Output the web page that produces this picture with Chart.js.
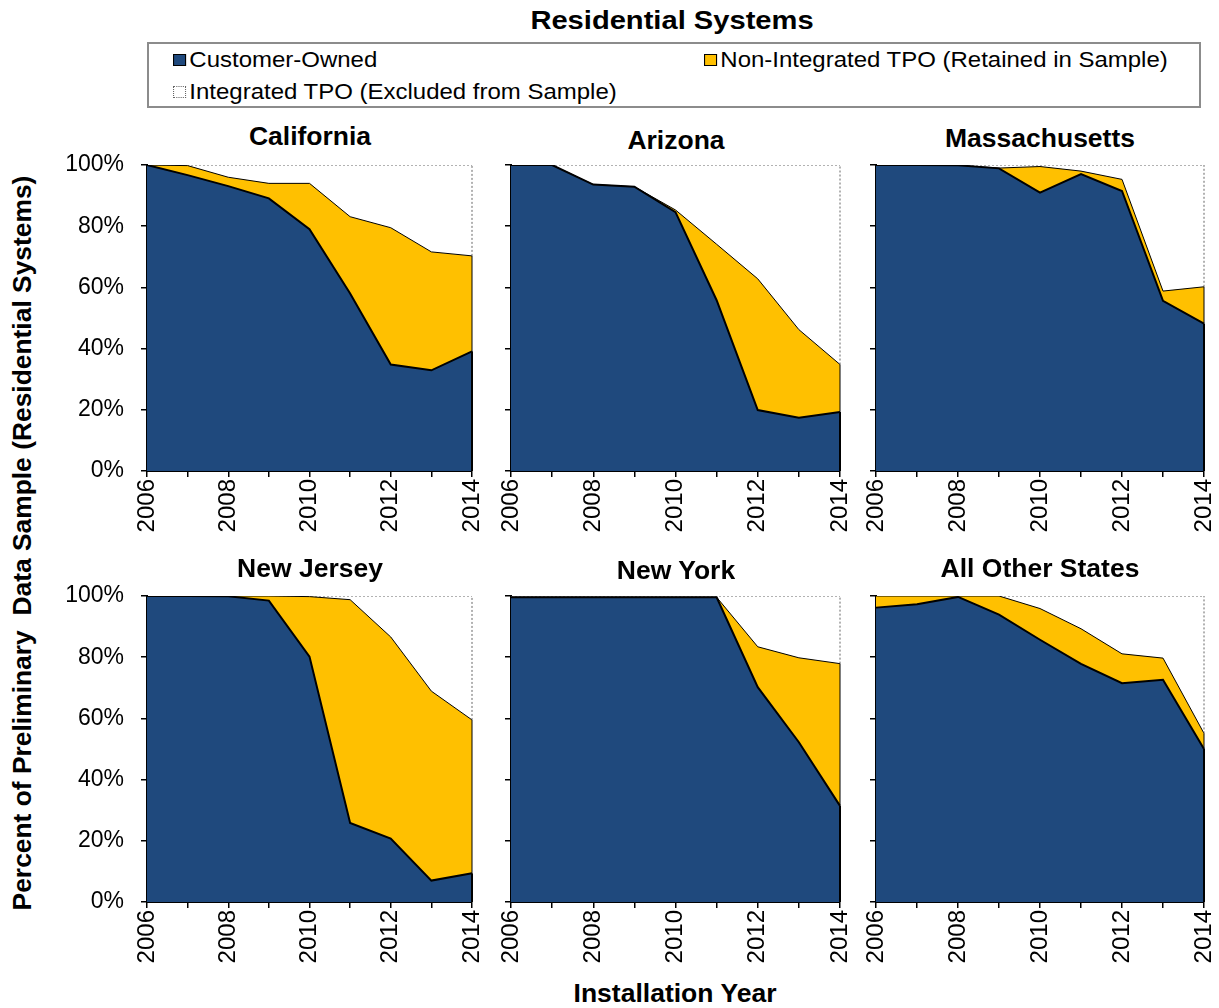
<!DOCTYPE html>
<html>
<head>
<meta charset="utf-8">
<script src="https://cdn.jsdelivr.net/npm/chart.js@4.4.0/dist/chart.umd.min.js"></script>
<style>
    body { margin: 0; background: #fff; font-family: "Liberation Sans", Arial, sans-serif; }
    #page { position: relative; width: 1219px; height: 1008px; overflow: hidden; }
    .abs { position: absolute; }
    .ttl { font-weight: bold; font-size: 25px; color: #000; white-space: nowrap; transform: translate(-50%, -50%) scaleX(1.06); }
    #legend { left: 147px; top: 42px; width: 1050px; height: 62px; border: 2px solid #8c8c8c; }
    .lg { position: absolute; font-size: 22px; white-space: nowrap; line-height: 24px; transform-origin: 0 50%; transform: scaleX(1.09); }
    .sw { display: inline-block; width: 12px; height: 12px; margin-right: 3px; vertical-align: 1px; box-sizing: border-box; }
</style>
</head>
<body>
<div id="page">
    <div class="abs ttl" style="left:672px; top:20px; font-size:26px; transform: translate(-50%, -50%) scaleX(1.12);">Residential Systems</div>
    <div id="legend" class="abs">
        <div class="lg" style="left:24px; top:4px;"><span class="sw" style="background:#1F497D;border:1px solid #000;"></span>Customer-Owned</div>
        <div class="lg" style="left:555px; top:4px;"><span class="sw" style="background:#FFC000;border:1px solid #000;"></span>Non-Integrated TPO (Retained in Sample)</div>
        <div class="lg" style="left:24px; top:36px;"><span class="sw" style="background:#fff;border:1px dotted #666;"></span>Integrated TPO (Excluded from Sample)</div>
    </div>
    <div class="abs ttl" style="left:22px; top:543px; font-size:26.4px; transform: translate(-50%, -50%) rotate(-90deg);">Percent of Preliminary&nbsp; Data Sample (Residential Systems)</div>
    <div class="abs ttl" style="left:675px; top:993px; font-size:26px; transform: translate(-50%, -50%) scaleX(1.02);">Installation Year</div>
</div>
<script>
    const years = ['2006', '2007', '2008', '2009', '2010', '2011', '2012', '2013', '2014'];
    const states = ['California', 'Arizona', 'Massachusetts', 'New Jersey', 'New York', 'All Other States'];
    const yTicks = [0, 20, 40, 60, 80, 100];

    // percent of sample, one row per state (same order as states)
    const customerOwned = [
        [100, 96.7, 93.1, 89.1, 79.0, 58.0, 34.8, 32.9, 39.1],
        [100, 100, 93.6, 92.9, 84.6, 55.8, 19.9, 17.4, 19.3],
        [100, 100, 99.9, 98.9, 91.0, 97.0, 91.5, 55.6, 48.2],
        [100, 100, 99.9, 98.5, 80.2, 25.8, 20.7, 7.0, 9.4],
        [99.6, 99.6, 99.6, 99.6, 99.6, 99.6, 70.2, 52.2, 31.4],
        [96.2, 97.3, 99.7, 93.9, 85.7, 77.8, 71.5, 72.6, 50.0]
    ];
    const nonIntegrated = [
        [0, 3.1, 2.9, 4.9, 15.0, 25.1, 44.7, 38.7, 31.2],
        [0, 0, 0, 0, 0.7, 18.3, 42.9, 28.8, 15.5],
        [0, 0, 0, 0.1, 8.5, 1.0, 3.8, 3.2, 12.0],
        [0, 0, 0.1, 1.5, 19.6, 73.0, 65.9, 61.9, 50.1],
        [0, 0, 0, 0, 0, 0, 13.2, 27.6, 46.5],
        [3.8, 2.7, 0.3, 6.1, 10.2, 11.5, 9.6, 7.1, 5.1]
    ];
    const integrated = [
        [0, 0.2, 4.0, 6.0, 6.0, 16.9, 20.5, 28.4, 29.7],
        [0, 0, 6.4, 7.1, 14.7, 25.9, 37.2, 53.8, 65.2],
        [0, 0, 0.1, 1.0, 0.5, 2.0, 4.7, 41.2, 39.8],
        [0, 0, 0, 0, 0.2, 1.2, 13.4, 31.1, 40.5],
        [0.4, 0.4, 0.4, 0.4, 0.4, 0.4, 16.6, 20.2, 22.1],
        [0, 0, 0, 0, 4.1, 10.7, 18.9, 20.3, 44.9]
    ];

    // plot area of each panel: left, top, width, height, title centre y
    const panels = [
        [147, 165, 325, 306, 136],
        [511, 165, 329, 306, 140],
        [876, 165, 328, 306, 138],
        [147, 596, 325, 306, 568],
        [511, 596, 329, 306, 570],
        [876, 596, 328, 306, 568]
    ];

    const AXW = 90, AXH = 90, PADT = 14, PADR = 14;
    const fam = '"Liberation Sans", Arial, sans-serif';

    // closes the right edge of each stacked area at the last year
    const edgePlugin = {
        id: 'edge',
        afterDatasetsDraw(chart) {
            const ctx = chart.ctx;
            const x = chart.scales.x;
            const y = chart.scales.y;
            const last = years.length - 1;
            const px = x.getPixelForValue(last);
            const d = chart.data.datasets;
            const b = d[0].data[last];
            const m = b + d[1].data[last];
            const t = m + d[2].data[last];
            ctx.save();
            ctx.setLineDash([2, 2]);
            ctx.strokeStyle = '#666';
            ctx.lineWidth = 1;
            ctx.beginPath();
            ctx.moveTo(px, y.getPixelForValue(m));
            ctx.lineTo(px, y.getPixelForValue(t));
            ctx.stroke();
            ctx.setLineDash([]);
            ctx.strokeStyle = '#000';
            ctx.lineWidth = 1;
            ctx.beginPath();
            ctx.moveTo(px, y.getPixelForValue(b));
            ctx.lineTo(px, y.getPixelForValue(m));
            ctx.stroke();
            ctx.lineWidth = 2;
            ctx.beginPath();
            ctx.moveTo(px, y.getPixelForValue(0));
            ctx.lineTo(px, y.getPixelForValue(b));
            ctx.stroke();
            ctx.restore();
        }
    };

    const page = document.getElementById('page');

    states.forEach((name, i) => {
        const [pl, pt, pw, ph, ty] = panels[i];

        const title = document.createElement('div');
        title.className = 'abs ttl';
        title.style.left = (pl + pw / 2) + 'px';
        title.style.top = ty + 'px';
        title.innerText = name;
        page.appendChild(title);

        const canvas = document.createElement('canvas');
        canvas.width = AXW + pw + PADR;
        canvas.height = PADT + ph + AXH;
        canvas.className = 'abs';
        canvas.style.left = (pl - AXW) + 'px';
        canvas.style.top = (pt - PADT) + 'px';
        page.appendChild(canvas);

        const showY = i % 3 === 0;

        new Chart(canvas.getContext('2d'), {
            type: 'line',
            data: {
                labels: years,
                datasets: [{
                    label: 'Customer-Owned',
                    data: customerOwned[i],
                    backgroundColor: '#1F497D',
                    borderColor: '#000',
                    borderWidth: 2,
                    fill: 'origin'
                }, {
                    label: 'Non-Integrated TPO (Retained in Sample)',
                    data: nonIntegrated[i],
                    backgroundColor: '#FFC000',
                    borderColor: '#000',
                    borderWidth: 1,
                    fill: '-1'
                }, {
                    label: 'Integrated TPO (Excluded from Sample)',
                    data: integrated[i],
                    backgroundColor: '#fff',
                    borderColor: '#666',
                    borderWidth: 1,
                    borderDash: [2, 2],
                    fill: '-1'
                }]
            },
            options: {
                responsive: false,
                animation: false,
                elements: { point: { radius: 0 }, line: { tension: 0 } },
                layout: { autoPadding: false, padding: { top: PADT, right: PADR, left: 0, bottom: 0 } },
                plugins: { legend: { display: false }, tooltip: { enabled: false }, title: { display: false } },
                scales: {
                    x: {
                        offset: false,
                        border: { color: '#000', width: 2 },
                        grid: { drawOnChartArea: false, tickLength: 6, color: '#000', lineWidth: 1.5 },
                        ticks: {
                            autoSkip: false, minRotation: 90, maxRotation: 90, color: '#000',
                            font: { family: fam, size: 24 }, padding: 2,
                            callback: (v, idx) => idx % 2 === 0 ? years[idx] : ''
                        },
                        afterFit: s => { s.height = AXH; s.paddingLeft = 0; s.paddingRight = 0; }
                    },
                    y: {
                        stacked: true,
                        min: 0,
                        max: 100,
                        border: { color: '#000', width: 2 },
                        grid: { drawOnChartArea: false, tickLength: 6, color: '#000', lineWidth: 1.5 },
                        afterBuildTicks: s => { s.ticks = yTicks.map(v => ({ value: v })); },
                        ticks: {
                            color: '#000', font: { family: fam, size: 23 }, padding: 17,
                            callback: v => showY ? v + '%' : ''
                        },
                        afterFit: s => { s.width = AXW; s.paddingTop = 0; s.paddingBottom = 0; }
                    }
                }
            },
            plugins: [edgePlugin]
        });
    });
</script>
</body>
</html>
